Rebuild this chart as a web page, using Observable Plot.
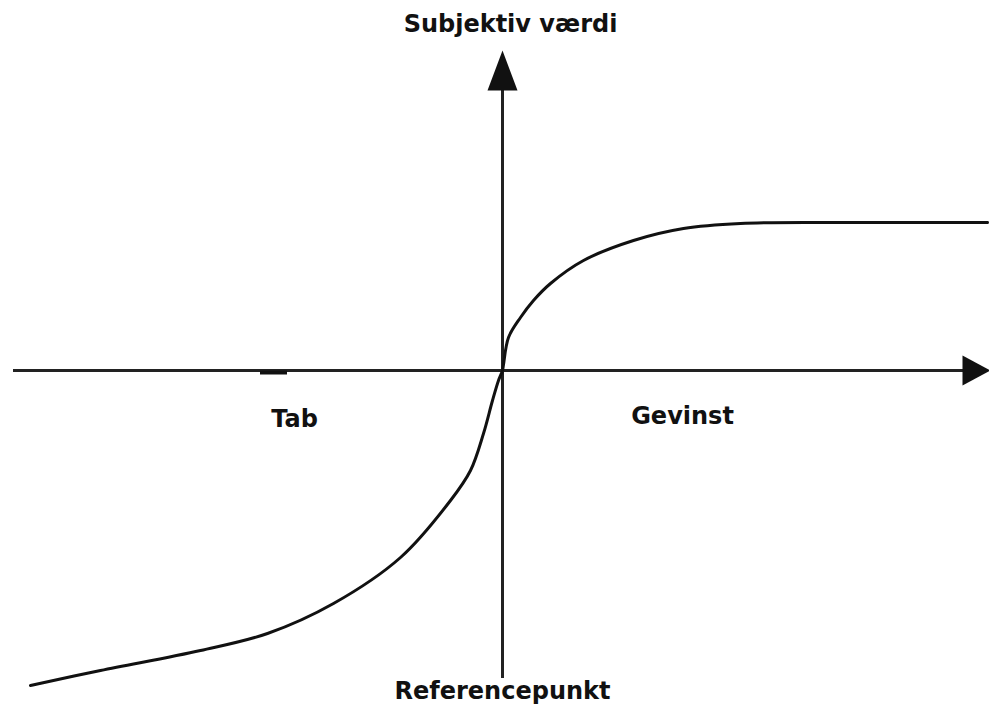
<!DOCTYPE html>
<html>
<head>
<meta charset="utf-8">
<script src="https://cdn.jsdelivr.net/npm/d3@7"></script>
<script src="https://cdn.jsdelivr.net/npm/@observablehq/plot@0.6"></script>
<style>
  html, body { margin: 0; padding: 0; background: #fff; }
  #chart svg { display: block; }
</style>
</head>
<body>
<div id="chart"></div>
<script>
// Value function (prospect theory): outcome relative to reference point vs subjective value
const lossX  = [-47.2, -40.2, -30.2, -23.5, -16.9, -10.2, -5.2, -3.2, -1.9, -1.0, -0.4, 0];
const lossY  = [-31.5, -30.0, -28.0, -26.3, -23.3, -18.7, -13.0, -10.0, -6.3, -3.0, -1.0, 0];
const gainX  = [0, 0.1, 0.6, 1.8, 3.1, 4.8, 8.1, 13.1, 18.1, 23.8, 33.1, 48.5];
const gainY  = [0, 0.6, 3.3, 5.3, 7.0, 8.7, 11.0, 13.0, 14.2, 14.7, 14.8, 14.8];

// axis extents (data units)
const xAxisExtent = [-48.9, 48.8];
const yAxisExtent = [-30.8, 32.0];

// labels
const labelText = ["Subjektiv værdi", "Tab", "Gevinst", "Referencepunkt"];
const labelX    = [0.8, -20.8, 18.0, 0];
const labelY    = [34.6, -4.9, -4.6, -32.1];

const curve = [
  ...lossX.map((x, i) => ({x, y: lossY[i]})),
  ...gainX.slice(1).map((x, i) => ({x, y: gainY[i + 1]}))
];
const labels = labelText.map((t, i) => ({t, x: labelX[i], y: labelY[i]}));

const upArrow = {draw(ctx) { ctx.moveTo(0, 0); ctx.lineTo(15, 40); ctx.lineTo(-15, 40); ctx.closePath(); }};
const rightArrow = {draw(ctx) { ctx.moveTo(0, 0); ctx.lineTo(-28, -15); ctx.lineTo(-28, 15); ctx.closePath(); }};

const ink = "#111";
const chart = Plot.plot({
  width: 989,
  height: 719,
  margin: 0,
  x: {domain: [-50.2, 48.7], range: [0, 989], axis: null},
  y: {domain: [-34.9, 37.0], range: [719, 0], axis: null},
  style: {fontFamily: "DejaVu Sans", background: "#fff"},
  marks: [
    Plot.ruleY([0], {x1: xAxisExtent[0], x2: xAxisExtent[1] - 2, stroke: "#222", strokeWidth: 3}),
    Plot.ruleX([0], {y1: yAxisExtent[0], y2: yAxisExtent[1] - 2, stroke: "#222", strokeWidth: 3}),
    Plot.ruleY([-0.2], {x1: -24.2, x2: -21.5, stroke: ink, strokeWidth: 4}),
    Plot.dot([{x: 0, y: yAxisExtent[1]}], {x: "x", y: "y", symbol: upArrow, fill: ink, stroke: "none", r: 10}),
    Plot.dot([{x: xAxisExtent[1], y: 0}], {x: "x", y: "y", symbol: rightArrow, fill: ink, stroke: "none", r: 10}),
    Plot.line(curve, {x: "x", y: "y", curve: "catmull-rom", stroke: ink, strokeWidth: 3}),
    Plot.text(labels, {x: "x", y: "y", text: "t", fontSize: 24, fontWeight: "bold", fill: ink, textAnchor: "middle"})
  ]
});
document.getElementById("chart").appendChild(chart);
</script>
</body>
</html>
